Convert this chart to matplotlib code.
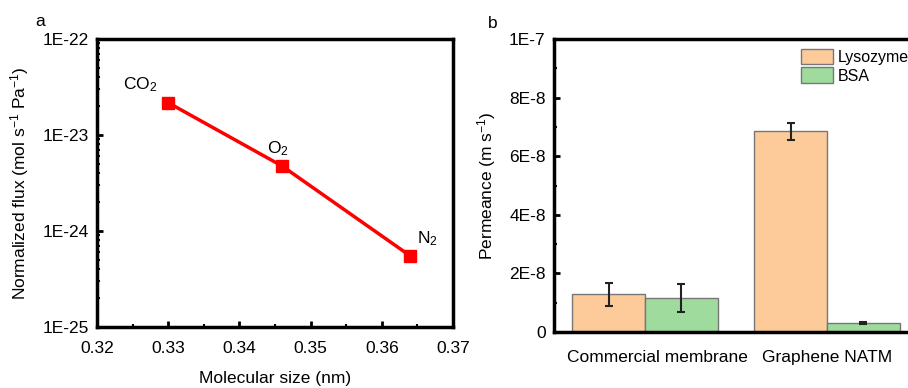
import matplotlib
matplotlib.use("Agg")
import matplotlib.pyplot as plt
import numpy as np
from matplotlib.ticker import FixedLocator, NullFormatter, LogLocator

plt.rcParams['font.family'] = ['Liberation Sans', 'DejaVu Sans']
plt.rcParams['mathtext.fontset'] = 'custom'
plt.rcParams['mathtext.rm'] = 'Liberation Sans'
plt.rcParams['mathtext.it'] = 'Liberation Sans:italic'
plt.rcParams['mathtext.bf'] = 'Liberation Sans:bold'

FS = 12.5

# Panel a data
gases = ['CO$_2$', 'O$_2$', 'N$_2$']
mol_size = [0.330, 0.346, 0.364]
flux = [2.17e-23, 4.75e-24, 5.5e-25]
gas_label_offsets = [(-20, 6), (-3, 6), (12, 6)]

# Panel b data
groups = ['Commercial membrane', 'Graphene NATM']
series = ['Lysozyme', 'BSA']
lysozyme = [1.28e-8, 6.85e-8]
lysozyme_err = [0.40e-8, 0.30e-8]
bsa = [1.16e-8, 0.31e-8]
bsa_err = [0.49e-8, 0.04e-8]
colors = ['#FDCA9A', '#A0DB9E']

W, H = 908, 388
fig = plt.figure(figsize=(W/100, H/100), dpi=100)

# ---- Panel a
axa = fig.add_axes([97/W, 1-327/H, (453-97)/W, (327-39)/H])
axa.plot(mol_size, flux, color='#FF0000', lw=2.5, marker='s', ms=8, zorder=3)
axa.set_yscale('log')
axa.set_ylim(1e-25, 1e-22)
axa.set_xlim(0.32, 0.37)
axa.set_xticks([0.32, 0.33, 0.34, 0.35, 0.36, 0.37])
axa.set_xticklabels(['0.32', '0.33', '0.34', '0.35', '0.36', '0.37'])
axa.xaxis.set_minor_locator(FixedLocator([0.325, 0.335, 0.345, 0.355, 0.365]))
axa.set_yticks([1e-25, 1e-24, 1e-23, 1e-22])
axa.set_yticklabels(['1E-25', '1E-24', '1E-23', '1E-22'])
axa.yaxis.set_minor_locator(LogLocator(base=10, subs=np.arange(2, 10), numticks=20))
axa.yaxis.set_minor_formatter(NullFormatter())
for g, x, y, off in zip(gases, mol_size, flux, gas_label_offsets):
    axa.annotate(g, (x, y), xytext=off, textcoords='offset points',
                 ha='center', va='bottom', fontsize=FS)
axa.set_xlabel('Molecular size (nm)', fontsize=FS, labelpad=11)
axa.set_ylabel('Normalized flux (mol s$^{-1}$ Pa$^{-1}$)', fontsize=FS, labelpad=8)
axa.tick_params(axis='x', which='major', pad=10)
axa.tick_params(direction='in', which='major', length=4, width=2, labelsize=FS,
                top=False, right=False)
axa.tick_params(axis='y', which='major', pad=6)
axa.tick_params(direction='in', which='minor', length=2, width=1.5, top=False, right=False)
for s in axa.spines.values():
    s.set_linewidth(2.5)
fig.text(40/W, 1-22/H, 'a', fontsize=FS, ha='center', va='center')

# ---- Panel b
axb = fig.add_axes([554/W, 1-332/H, (918-554)/W, (332-39)/H])
x = np.arange(len(groups))
w = 0.4
ekw = dict(elinewidth=1.5, capthick=1.5, ecolor='#222222')
axb.bar(x - w/2, lysozyme, w, color=colors[0], edgecolor='#777777', lw=1, label=series[0],
        yerr=lysozyme_err, capsize=3, error_kw=ekw)
axb.bar(x + w/2, bsa, w, color=colors[1], edgecolor='#777777', lw=1, label=series[1],
        yerr=bsa_err, capsize=3, error_kw=ekw)
axb.set_xlim(-0.5, 1.5)
axb.set_ylim(0, 1e-7)
label_shift = [0.066, 0.0]
axb.set_xticks(x + np.array(label_shift))
axb.set_xticklabels(groups, fontsize=FS)
axb.set_yticks([0, 2e-8, 4e-8, 6e-8, 8e-8, 1e-7])
axb.set_yticklabels(['0', '2E-8', '4E-8', '6E-8', '8E-8', '1E-7'])
axb.yaxis.set_minor_locator(FixedLocator([1e-8, 3e-8, 5e-8, 7e-8, 9e-8]))
axb.tick_params(axis='y', direction='in', which='major', length=4, width=2, labelsize=FS, pad=6)
axb.tick_params(axis='y', direction='in', which='minor', length=2, width=1.5)
axb.tick_params(axis='x', length=0, pad=13)
axb.set_ylabel('Permeance (m s$^{-1}$)', fontsize=FS, labelpad=8)
for s in axb.spines.values():
    s.set_linewidth(2.5)
axb.legend(loc='upper left', bbox_to_anchor=((801-554)/(918-554), 1-(49-39)/(332-39)),
           frameon=False, fontsize=11.5, handlelength=2.0, handleheight=1.1,
           handletextpad=0.3, labelspacing=0.15, borderaxespad=0, borderpad=0)
fig.text(493/W, 1-23/H, 'b', fontsize=FS, ha='center', va='center')

fig.savefig('out.png', dpi=100)
